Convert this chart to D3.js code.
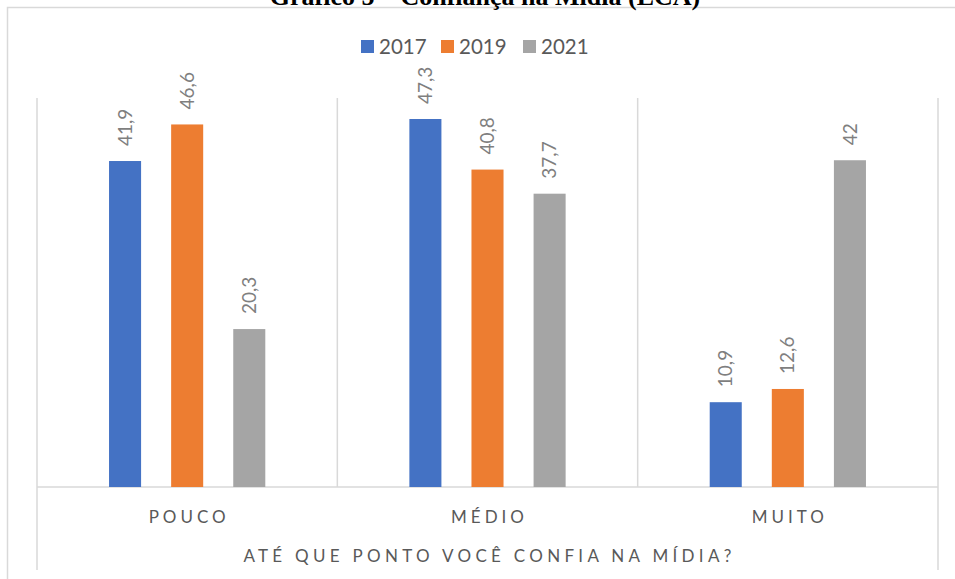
<!doctype html>
<html lang="pt">
 <head>
   <meta charset="UTF-8">
   <title>Confiança na Mídia</title>
   <script src="https://d3js.org/d3.v7.min.js"></script>
   <style>
     body { margin: 0; background: #fff; }
   </style>
 </head>
 <body>
   <div id="myDiv"></div>

 <script type="text/javascript">
   // data
   let categories = ["POUCO", "MÉDIO", "MUITO"];
   let years = ["2017", "2019", "2021"];
   let values2017 = [41.9, 47.3, 10.9];
   let values2019 = [46.6, 40.8, 12.6];
   let values2021 = [20.3, 37.7, 42];
   let colors = ["#4472C4", "#ED7D31", "#A5A5A5"];
   let yDomain = [0, 50];

   let series = [values2017, values2019, values2021];

   let width = 955, height = 579;
   let svg = d3.select("#myDiv").append("svg")
      .attr("width", width)
      .attr("height", height);

   // outer chart border (cut off on right / bottom)
   svg.append("path")
      .attr("d", "M7.5,579 L7.5,7.5 L955,7.5")
      .attr("fill", "none")
      .attr("stroke", "#d9d9d9")
      .attr("stroke-width", 1.5);

   // title, mostly cropped above the frame
   svg.append("text")
      .attr("x", 485)
      .attr("y", 5)
      .attr("text-anchor", "middle")
      .attr("font-family", "'Liberation Serif', serif")
      .attr("font-weight", "bold")
      .attr("font-size", "26px")
      .attr("fill", "#000")
      .text("Gráfico 5 – Confiança na Mídia (ECA)");

   let plotLeft = 37, plotRight = 938, plotTop = 98, plotBottom = 487;

   let x = d3.scaleBand()
      .domain(categories)
      .range([plotLeft, plotRight])
      .paddingInner(0).paddingOuter(0);

   let xSub = d3.scaleBand()
      .domain(years)
      .range([0, x.bandwidth()])
      .paddingInner(0.484)
      .paddingOuter(1.16);

   let y = d3.scaleLinear()
      .domain(yDomain)
      .range([plotBottom, plotTop]);

   // category separators
   let bounds = categories.map(function(c){ return x(c); }).concat([plotRight]);
   svg.selectAll(".sep")
      .data(bounds)
      .enter()
      .append("line")
         .attr("x1", function(d){ return d; })
         .attr("x2", function(d){ return d; })
         .attr("y1", plotTop)
         .attr("y2", function(d, i){
            return (i == 0 || i == bounds.length - 1) ? 570 : plotBottom;
         })
         .attr("stroke", "#d9d9d9")
         .attr("stroke-width", 1.5);

   // baseline
   svg.append("line")
      .attr("x1", plotLeft).attr("x2", plotRight)
      .attr("y1", plotBottom).attr("y2", plotBottom)
      .attr("stroke", "#d9d9d9")
      .attr("stroke-width", 1.5);

   // bars + rotated labels
   years.forEach(function(yr, s){
      let g = svg.append("g");
      g.selectAll("rect")
         .data(series[s])
         .enter()
         .append("rect")
            .attr("x", function(d, i){ return x(categories[i]) + xSub(yr); })
            .attr("y", function(d){ return y(d); })
            .attr("width", xSub.bandwidth())
            .attr("height", function(d){ return plotBottom - y(d); })
            .attr("fill", colors[s]);

      g.selectAll("text")
         .data(series[s])
         .enter()
         .append("text")
            .attr("transform", function(d, i){
               let cx = x(categories[i]) + xSub(yr) + xSub.bandwidth() / 2;
               return "translate(" + cx + "," + (y(d) - 15) + ") rotate(-90)";
            })
            .attr("text-anchor", "start")
            .attr("dy", "0.35em")
            .attr("font-family", "Lato, sans-serif")
            .attr("font-size", "19px")
            .attr("fill", "#7f7f7f")
            .text(function(d){ return String(d).replace(".", ","); });
   });

   // category labels
   svg.selectAll(".cat")
      .data(categories)
      .enter()
      .append("text")
         .attr("x", function(d){ return x(d) + x.bandwidth() / 2 + 2; })
         .attr("y", 523)
         .attr("text-anchor", "middle")
         .attr("font-family", "Lato, sans-serif")
         .attr("font-size", "17px")
         .attr("letter-spacing", "4px")
         .attr("fill", "#595959")
         .text(function(d){ return d; });

   // axis title
   svg.append("text")
      .attr("x", (plotLeft + plotRight) / 2 + 2)
      .attr("y", 562)
      .attr("text-anchor", "middle")
      .attr("font-family", "Lato, sans-serif")
      .attr("font-size", "17px")
      .attr("letter-spacing", "4.3px")
      .attr("fill", "#595959")
      .text("ATÉ QUE PONTO VOCÊ CONFIA NA MÍDIA?");

   // legend
   let legendX = [361, 441, 523];
   let legend = svg.selectAll(".leg")
      .data(years)
      .enter()
      .append("g")
         .attr("transform", function(d, i){ return "translate(" + legendX[i] + ",40)"; });
   legend.append("rect")
      .attr("width", 13).attr("height", 13)
      .attr("fill", function(d, i){ return colors[i]; });
   legend.append("text")
      .attr("x", 18)
      .attr("y", 14)
      .attr("font-family", "Lato, sans-serif")
      .attr("font-size", "20.5px")
      .attr("fill", "#595959")
      .text(function(d){ return d; });
 </script>
</body>
</html>
